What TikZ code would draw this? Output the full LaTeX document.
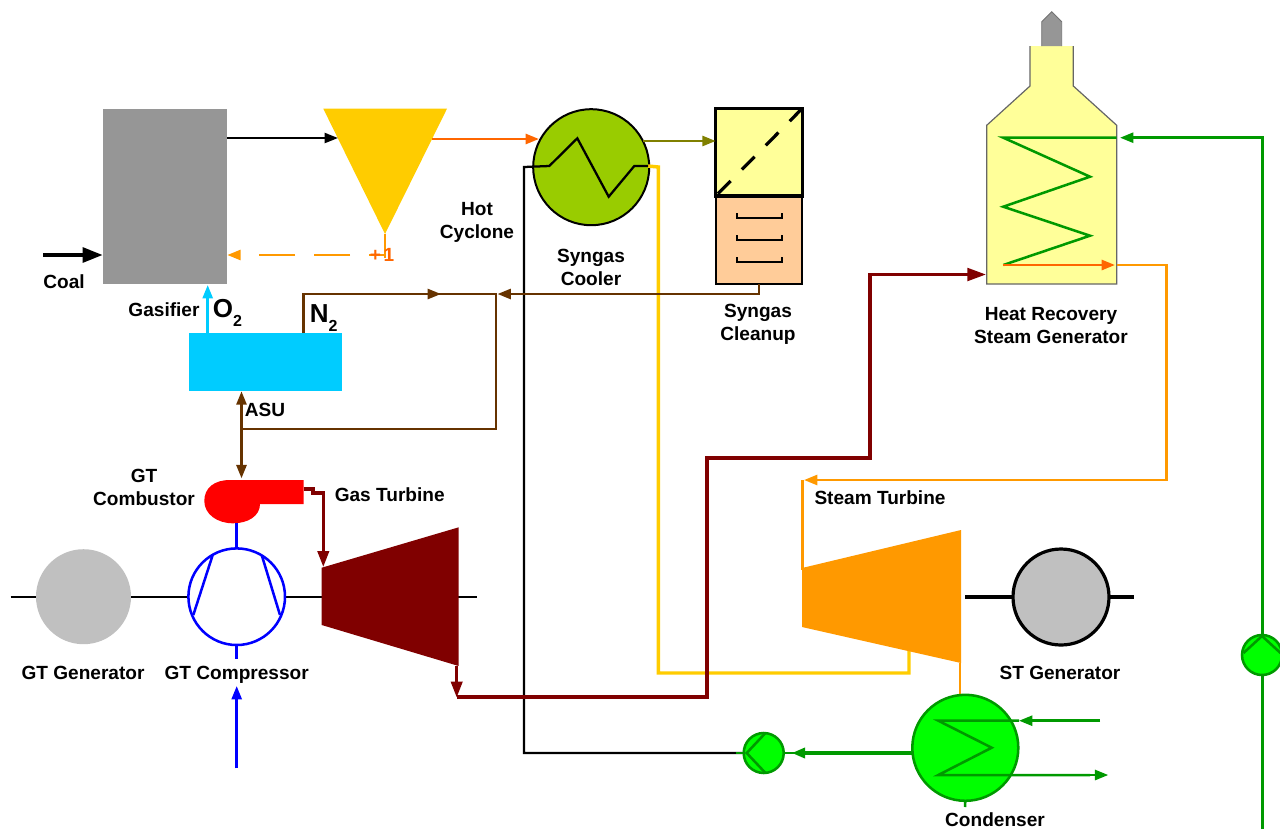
\documentclass[tikz,border=0pt]{standalone}
\usepackage{fontspec}
\setmainfont{Liberation Sans}
\usepackage{xcolor}
\usetikzlibrary{calc,arrows.meta}
\definecolor{gasgray}{HTML}{969696}
\definecolor{cyclone}{HTML}{FFCC00}
\definecolor{hotline}{HTML}{FF6600}
\definecolor{ash}{HTML}{FF9900}
\definecolor{air}{HTML}{00CCFF}
\definecolor{nitro}{HTML}{663300}
\definecolor{coolgreen}{HTML}{99CC00}
\definecolor{syngas}{HTML}{808000}
\definecolor{pale}{HTML}{FFFF99}
\definecolor{peach}{HTML}{FFCC99}
\definecolor{exhaust}{HTML}{800000}
\definecolor{water}{HTML}{009900}
\definecolor{lime}{HTML}{00FF00}
\definecolor{gen}{HTML}{C0C0C0}
\tikzset{
	lbl/.style={font=\fontsize{14.3}{17.25}\selectfont\bfseries,align=center,inner sep=0pt},
	lblbig/.style={font=\fontsize{19.5}{20}\selectfont\bfseries,inner sep=0pt,anchor=base west},
	unit/.style={draw=none,inner sep=0pt,outer sep=0pt},
	round/.style={circle,inner sep=0pt,outer sep=0pt},
	pumpbody/.style={round,draw=water,fill=lime,line width=1.9pt,minimum size=30pt},
	nitroline/.style={nitro,line width=1.9pt},
	waterline/.style={water,line width=1.9pt},
	ashline/.style={ash,line width=1.9pt},
	blueline/.style={blue,line width=1.9pt},
	redline/.style={exhaust,line width=2.3pt,>={Triangle[length=12pt,width=8.5pt]}},
	blackline/.style={line width=1.5pt},
	bigtip/.style={>={Triangle[length=15pt,width=11pt]}}
}
\newcommand{\subtwo}{\raisebox{-0.36em}{\fontsize{12}{12}\selectfont 2}}

\begin{document}
\begin{tikzpicture}[x=0.75pt,y=-0.75pt,>={Triangle[length=10pt,width=7.5pt]}]
	\def\u{0.75pt}
	\clip (0,0) rectangle (1280,829);
	
	% units
	\node[unit,fill=gasgray,minimum width=124.6*\u,minimum height=175.3*\u] (gasifier) at (165,196.4) {};
	\node[unit,fill=air,minimum width=153.3*\u,minimum height=58.6*\u] (asu) at (265.7,362) {};
	\node[round,draw=black,fill=coolgreen,line width=1.5pt,minimum size=116*\u] (cooler) at (591.2,167.2) {};
	\node[unit,fill=peach,draw=black,line width=1.5pt,minimum width=86.6*\u,minimum height=88*\u] (scrub) at (759,240) {};
	\node[unit,fill=pale,draw=black,line width=2.4pt,minimum width=86.6*\u,minimum height=87.7*\u] (filter) at (759,152.2) {};
	\fill[cyclone] (323.3,108.7)--(447,108.7)--(385,234)--cycle;
	
	\coordinate (cycbot) at (385,234);
	\coordinate (ashknee) at (385,255);
	\coordinate (gasin) at (102.7,255);
	\coordinate (coalstart) at (43,255);
	
	% gasifier side
	\draw[->,blackline] (gasifier.east |- 0,138) -- (338,138);
	\draw[->,line width=2.8pt,bigtip] (coalstart) -- (gasin);
	\draw[->,air,line width=1.9pt] (207.7,332.7) -- (207.7,285);
	\draw[ashline,line width=1.5pt] (cycbot) -- (385,258);
	\draw[->,ashline,dash pattern=on 27pt off 14.25pt,dash phase=15pt] (ashknee) -- (gasifier.east |- ashknee);
	\node[lbl,text=hotline] (ashtag) at (382,255) {+\hspace{0.14em}1};
	
	% hot gas to the cooler
	\draw[->,hotline,line width=1.9pt] (432,139) -- (539,139);
	\draw[->,syngas,line width=1.9pt] (643,141) -- (filter.west |- 0,141);
	
	% cooler coil and feed lines
	\coordinate (bfwA) at (524,167);
	\coordinate (ipA) at (648,166);
	\coordinate (ipB) at (658.3,167);
	\coordinate (ipC) at (658.3,673);
	\coordinate (ipD) at (909,673);
	\coordinate (ipE) at (909,650);
	\draw[cyclone,line width=2.6pt] (ipA) -- (ipB) -- (ipC) -- (ipD) -- (ipE);
	\draw[blackline,line width=1.7pt] (745,753) -- (524,753) -- (bfwA) -- (549.3,166) -- (577.3,138.3) -- (608.7,196.7) -- (634.3,166) -- (ipA);
	
	% filter and trays
	\draw[line width=2.4pt,dash pattern=on 13.5pt off 12pt] (filter.north east) -- (filter.south west);
	\foreach \y in {218.3,240.3,262.3}
	\draw[line width=1.5pt] (737.3,\y-5) -- (737.3,\y) -- (781.7,\y) -- (781.7,\y-5);
	
	% nitrogen loop
	\coordinate (junc) at (496,294);
	\coordinate (loopend) at (496,429);
	\coordinate (tee) at (241.5,429);
	\coordinate (n2up) at (303.3,294);
	\draw[->,nitroline] (scrub.south) -- (scrub.south |- junc) -- (497.5,294);
	\draw[nitroline] (asu.north -| n2up) -- (n2up) -- (junc) -- (loopend) -- (tee);
	\draw[->,nitroline] (n2up) -- (441,294);
	\draw[->,nitroline] (tee) -- (asu.south -| tee);
	\draw[->,nitroline] (tee) -- (241.5,478.3);
	
	% gas turbine train
	\node[round,fill=gen,minimum size=95*\u] (gtgen) at (83.5,596.7) {};
	\draw[blackline] (10.7,596.7) -- (gtgen.west);
	\draw[blackline] (gtgen.east) -- (477.3,596.7);
	\node[round,draw=blue,fill=white,line width=1.9pt,minimum size=96.6*\u] (comp) at (236.7,596.7) {};
	\draw[blueline] (212.7,555) -- (193.3,615);
	\draw[blueline] (261.7,555) -- (280,615);
	\fill[exhaust] (321.7,567.7)--(458.7,527.3)--(458.7,666)--(321.7,625)--cycle;
	\fill[red] (303.7,480) -- (230,480) .. controls (214,480) and (204.3,488) .. (204.3,501)
	.. controls (204.3,514) and (217,523.3) .. (233,523.3)
	.. controls (248,523.3) and (260,516) .. (260,504) -- (303.7,504) -- cycle;
	\coordinate (combtop) at (236.7,523.3);
	\draw[blueline] (comp.north) -- (combtop);
	\draw[blueline] (comp.south) -- (236.7,659);
	\draw[->,blueline] (236.7,768.3) -- (236.7,686);
	\draw[->,redline] (303.7,489) -- (313,489) -- (313,493) -- (323.3,493) -- (323.3,567);
	
	% exhaust to the HRSG
	\draw[->,redline] (456.7,666) -- (456.7,697.5);
	\draw[->,redline,>={Triangle[length=14pt,width=9.5pt]}] (456.7,697) -- (707,697) -- (707,458) -- (870,458) -- (870,274.5) -- (986,274.5);
	
	% HRSG
	\fill[pale] (986.7,125.3)--(1030,86)--(1030,46)--(1073.3,46)--(1073.3,86)--(1116.7,125.3)--(1116.7,284)--(986.7,284)--cycle;
	\draw[draw=black!60,line width=0.9pt] (1030,46)--(1030,86)--(986.7,125.3)--(986.7,284)--(1116.7,284)--(1116.7,125.3)--(1073.3,86)--(1073.3,46);
	\draw[fill=gasgray,draw=black!55,line width=0.7pt] (1041.7,46)--(1041.7,21.7)--(1051.7,11.7)--(1061.7,21.7)--(1061.7,46);
	\coordinate (hpin) at (1116.7,137.7);
	\coordinate (hpout) at (1116.7,265);
	\draw[waterline] (hpin) -- (1003.3,137.7) -- (1090,176.7) -- (1003.3,206.7) -- (1090,235.7) -- (1003.3,265);
	\draw[->,hotline,line width=1.9pt] (1003.3,265) -- (1115,265);
	\draw[->,waterline] (1262.5,829) -- (1262.5,137.7) -- (1120,137.7);
	\draw[->,ashline] (hpout) -- (1166.7,265) -- (1166.7,480) -- (804,480);
	
	% pumps
	\node[pumpbody] (pumpA) at (763.7,753) {};
	\draw[waterline] (765,733.5) -- (746.7,753) -- (765,772.5);
	\node[pumpbody] (pumpB) at (1262,655) {};
	\draw[waterline] (1243.5,653) -- (1262,636) -- (1280.5,653);
	
	% steam turbine train
	\draw[ashline] (802.5,480) -- (802.5,570);
	\fill[ash] (802,568)--(961,530)--(961,663)--(802,627)--cycle;
	\node[round,draw=black,fill=gen,line width=2.4pt,minimum size=96*\u] (stgen) at (1061,597) {};
	\draw[line width=2.4pt] (965,597) -- (stgen.west);
	\draw[line width=2.4pt] (stgen.east) -- (1134,597);
	
	% condenser
	\draw[ashline] (960,663) -- (960,695);
	\node[round,draw=water,fill=lime,line width=1.9pt,minimum size=106*\u] (cond) at (965.3,747.8) {};
	\draw[waterline] (cond.south) -- (965,807);
	\draw[waterline] (1019,720.7) -- (938.3,720.7) -- (991.7,747.7) -- (938.3,775) -- (1090,775);
	\draw[->,waterline] (1100,720.7) -- (1019,720.7);
	\draw[->,waterline] (1090,775) -- (1108.3,775);
	\draw[->,waterline,line width=3pt] (cond.west |- pumpA) -- (791.7,753);
	\draw[waterline] (795,753) -- (pumpA.east);
	\draw[waterline] (736,753) -- (pumpA.west);
	
	% labels
	\node[lbl] (coaltxt) at (64,282) {Coal};
	\node[lbl] (gastxt) at (164,310) {Gasifier};
	\node[lblbig] (otxt) at (212.7,317) {O\subtwo};
	\node[lblbig] (ntxt) at (309.5,322) {N\subtwo};
	\node[lbl] (asutxt) at (265,410) {ASU};
	\node[lbl] (hottxt) at (477,222.5) {Hot\\Cyclone};
	\node[lbl] (cooltxt) at (591,267.5) {Syngas\\Cooler};
	\node[lbl] (cleantxt) at (758,324.5) {Syngas\\Cleanup};
	\node[lbl] (hrsgtxt) at (1051,326) {Heat Recovery\\Steam Generator};
	\node[lbl] (combtxt) at (144,487) {GT\\Combustor};
	\node[lbl] (gttxt) at (389.7,494.5) {Gas Turbine};
	\node[lbl] (sttxt) at (880,497.5) {Steam Turbine};
	\node[lbl] (gengt) at (83,673) {GT Generator};
	\node[lbl] (comptxt) at (236.7,675) {GT Compressor};
	\node[lbl] (genst) at (1060,673) {ST Generator};
	\node[lbl] (condtxt) at (995,820) {Condenser};
\end{tikzpicture}
\end{document}
